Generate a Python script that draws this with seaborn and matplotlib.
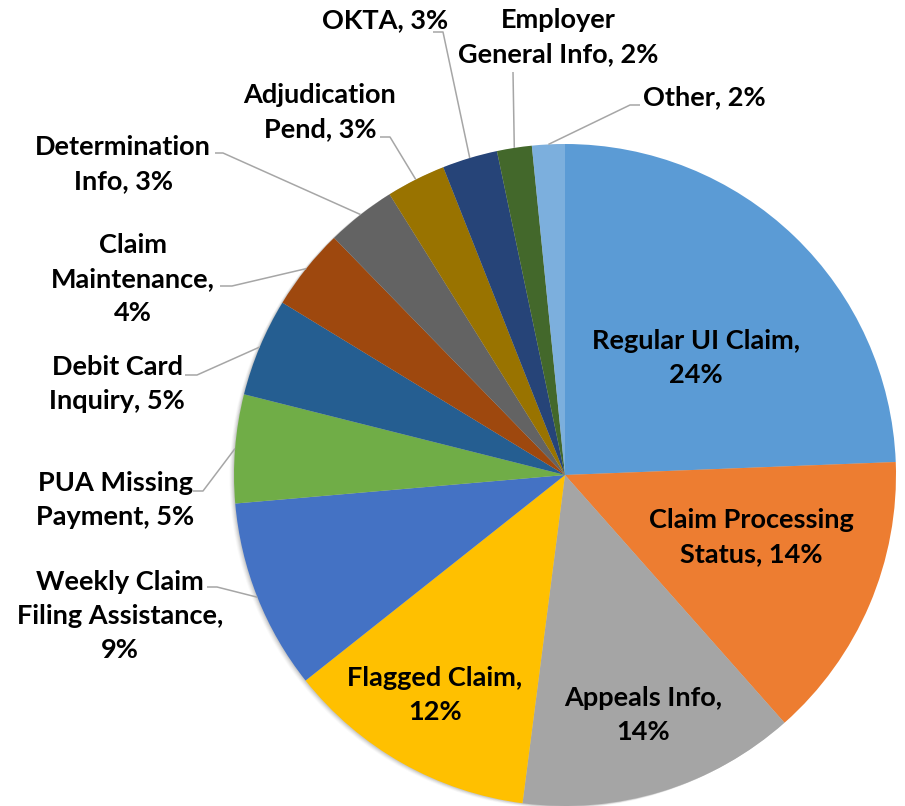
import numpy as np
import matplotlib
matplotlib.use("Agg")
import matplotlib.pyplot as plt
import seaborn as sns

# data (share of contacts, %)
categories = ["Regular UI Claim", "Claim Processing Status", "Appeals Info", "Flagged Claim",
              "Weekly Claim Filing Assistance", "PUA Missing Payment", "Debit Card Inquiry",
              "Claim Maintenance", "Determination Info", "Adjudication Pend", "OKTA",
              "Employer General Info", "Other"]
shares = [24.4, 14.1, 13.6, 12.3, 9.3, 5.3, 4.8, 4.0, 3.4, 2.9, 2.7, 1.7, 1.6]
colors = ["#5B9BD5", "#ED7D31", "#A5A5A5", "#FFC000", "#4472C4", "#70AD47", "#255E91",
          "#9E480E", "#636363", "#997300", "#264478", "#43682B", "#7CAFDD"]
# how each label is broken over lines
label_lines = ["Regular UI Claim,\n{}%", "Claim Processing\nStatus, {}%", "Appeals Info,\n{}%",
               "Flagged Claim,\n{}%", "Weekly Claim\nFiling Assistance,\n{}%", "PUA Missing\nPayment, {}%",
               "Debit Card\nInquiry, {}%", "Claim\nMaintenance,\n{}%", "Determination\nInfo, {}%",
               "Adjudication\nPend, {}%", "OKTA, {}%", "Employer\nGeneral Info, {}%", "Other, {}%"]

W, H = 905, 806
sns.set_theme(style="white")
plt.rcParams['font.family'] = ['Lato', 'DejaVu Sans']

fig = plt.figure(figsize=(W / 100, H / 100), dpi=100)
ax = fig.add_axes([0, 0, 1, 1])
ax.set_xlim(0, W)
ax.set_ylim(0, H)
ax.set_aspect("equal")
ax.axis("off")

cx, cy, R = 565, H - 475, 331

# soft shadow like the office chart (mostly on the left / lower left)
for k, a in zip(range(5, 0, -1), [0.025, 0.035, 0.045, 0.055, 0.065]):
    ax.add_patch(plt.Circle((cx - k * 0.9, cy - k * 0.5), R, color="black", alpha=a, lw=0))

wedges, _ = ax.pie(shares, colors=colors, startangle=90, counterclock=False,
                   radius=R, center=(cx, cy), wedgeprops=dict(linewidth=0))
ax.set_xlim(0, W)
ax.set_ylim(0, H)

# label positions (pixel coords from top-left), leader start and elbow
text_pos = {
    0: (696, 358), 1: (751, 537), 2: (643, 715), 3: (435, 695),
    4: (120, 616), 5: (115, 500), 6: (117, 384), 7: (133, 279), 8: (123, 164),
    9: (320, 112), 10: (385, 20), 11: (558, 37), 12: (704, 97),
}
leaders = {
    4: [(207, 587), (217, 587)],
    5: [(193, 491), (203, 491)],
    6: [(185, 375), (197, 375)],
    7: [(220, 286), (232, 286)],
    8: [(215, 153), (223, 153)],
    9: [(380, 137), (390, 137)],
    10: [(433, 32), (443, 32)],
    11: [(513, 72), (513, 72)],
    12: [(640, 105), (630, 105)],
}

for i, w in enumerate(wedges):
    txt = label_lines[i].format(int(round(shares[i])))
    x, y = text_pos[i]
    ax.text(x, H - y, txt, ha="center", va="center", fontsize=19.5, fontweight="bold",
            color="black", linespacing=1.5, zorder=5)
    if i in leaders:
        mid = np.deg2rad((w.theta1 + w.theta2) / 2)
        ex, ey = cx + R * np.cos(mid), cy + R * np.sin(mid)
        (sx, sy), (bx, by) = leaders[i]
        ax.plot([sx, bx, ex], [H - sy, H - by, ey], color="#A6A6A6", lw=1.1, zorder=4,
                solid_capstyle="butt")

fig.savefig("out.png", dpi=100)
